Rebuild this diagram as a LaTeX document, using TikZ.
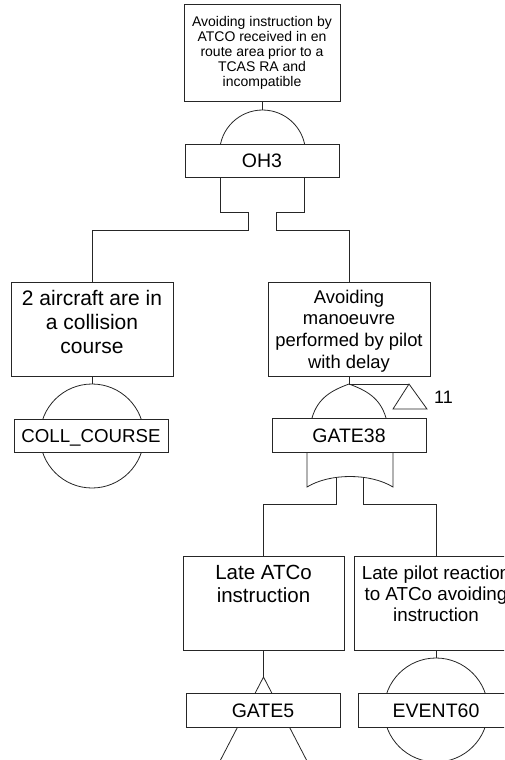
\documentclass[tikz,border=0pt]{standalone}
\usepackage{fontspec}
\setmainfont{Liberation Sans}
\begin{document}
\begin{tikzpicture}[x=1pt,y=-1pt,
  ln/.style={draw=black!85, line width=0.8pt},
  evbox/.style={ln, fill=white, inner sep=0pt},
  lbl/.style={evbox, minimum height=34pt, text height=14pt, text depth=0pt, font=\fontsize{19.5}{22}\selectfont},
  desc/.style={inner sep=0pt, align=center, anchor=north},
  evcircle/.style={ln, circle, inner sep=0pt, minimum size=104pt},
]
\useasboundingbox (0,0) rectangle (504,760);
\clip (0,0) rectangle (504,760);

% ---------- top event and AND gate OH3 ----------
\node[evbox, minimum width=156pt, minimum height=97pt, align=center,
      font=\fontsize{14}{15}\selectfont] (top) at (262,52.5)
  {Avoiding instruction by\\ATCO received in en\\route area prior to a\\TCAS RA and\\incompatible};
\coordinate (andtop) at (262,110);
\draw[ln] (top.south) -- (andtop);
\draw[ln] (220.5,144) arc[start angle=192.1,end angle=347.9,radius=43];
\node[lbl, minimum width=154pt, minimum height=33pt] (oh3) at (262,160.5) {OH3};
\coordinate (g1l) at (248.5,212);
\coordinate (g1r) at (276.5,212);
\draw[ln] (220.5,177) -- (220.5,212) -- (g1l);
\draw[ln] (304.5,177) -- (304.5,212) -- (g1r);

% ---------- left branch ----------
\node[evbox, minimum width=162pt, minimum height=94pt] (c1) at (92,329) {};
\node[desc, font=\fontsize{21}{24}\selectfont] (c1t) at (92,289.7)
  {2 aircraft are in\\a collision\\course};
\draw[ln] (g1l) -- (248.5,230) -| (c1.north);
\node[evcircle] (cc) at (92,436) {};
\draw[ln] (c1.south) -- (cc.north);
\node[lbl, minimum width=154pt, minimum height=33pt, font=\fontsize{18.7}{22}\selectfont] (ccl) at (91,435.5) {COLL\_COURSE};

% ---------- right branch ----------
\node[evbox, minimum width=162pt, minimum height=94pt] (c2) at (349,329) {};
\node[desc, font=\fontsize{18.4}{21.7}\selectfont] (c2t) at (349,289.6)
  {Avoiding\\manoeuvre\\performed by pilot\\with delay};
\draw[ln] (g1r) -- (276.5,230) -| (c2.north);
\coordinate (orapex) at (349,384);
\draw[ln] (c2.south) -- (orapex);
\draw[ln] (312,418) .. controls (318,397) and (333,390) .. (orapex)
          .. controls (365,390) and (380,397) .. (386,418);
% transfer triangle "11"
\coordinate (tri) at (409,384);
\draw[ln] (orapex) -- (tri);
\draw[ln] (tri) -- (393,409) -- (427,409) -- cycle;
\node[inner sep=0pt, font=\fontsize{18}{20}\selectfont] (t11) at (443.5,397) {11};
\node[lbl, minimum width=154pt] (g38) at (349,435) {GATE38};
\draw[ln] (307,452) -- (307,487) .. controls (330,473) and (370,473) .. (393,487) -- (393,452);
\coordinate (g38l) at (336,477);
\coordinate (g38r) at (363,477);

% ---------- lower children ----------
\node[evbox, minimum width=161pt, minimum height=94pt] (c3) at (263.5,603) {};
\node[desc, font=\fontsize{20.5}{23.3}\selectfont] (c3t) at (263.5,564.5)
  {Late ATCo\\instruction};
\node[evbox, minimum width=164pt, minimum height=94pt] (c4) at (436,603) {};
\node[desc, font=\fontsize{18.8}{21}\selectfont] (c4t) at (436,565.3)
  {Late pilot reaction\\to ATCo avoiding\\instruction};
\draw[ln] (g38l) -- (336,504) -| (c3.north);
\draw[ln] (g38r) -- (363,504) -| (c4.north);

% GATE5 transfer
\coordinate (g5apex) at (263.5,677);
\draw[ln] (c3.south) -- (g5apex);
\draw[ln] (199.8,800) -- (g5apex) -- (327.2,800);
\node[lbl, minimum width=154pt] (g5) at (263,710) {GATE5};

% EVENT60 basic event
\node[evcircle] (ev) at (436,710) {};
\draw[ln] (c4.south) -- (ev.north);
\node[lbl, minimum width=156pt] (evl) at (436,710) {EVENT60};
\end{tikzpicture}
\end{document}
